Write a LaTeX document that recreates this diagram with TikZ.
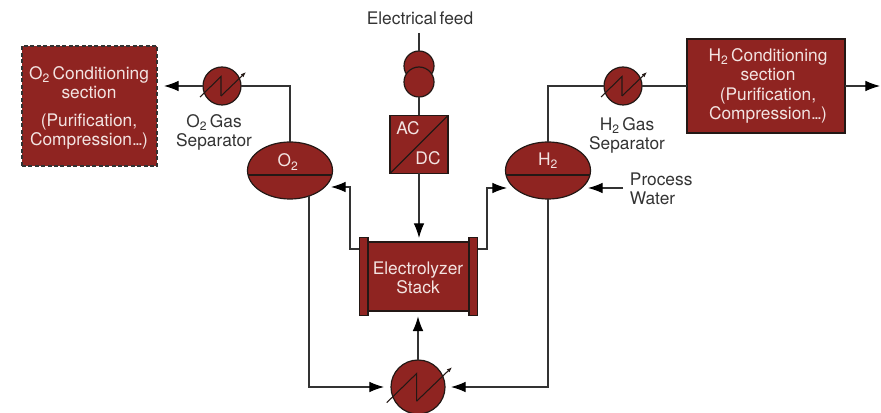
\documentclass[tikz,border=0pt]{standalone}
\usepackage{fontspec}
\setmainfont[WordSpace=0.55]{TeX Gyre Heros}
\usetikzlibrary{shapes, arrows.meta, positioning, calc}
\definecolor{cUnit}{RGB}{143, 36, 33}
\definecolor{cEdge}{RGB}{35, 24, 21}
\definecolor{cLine}{RGB}{51, 51, 51}
\definecolor{cPale}{RGB}{243, 228, 226}
\newcommand{\tightdots}{.\kern-1.3pt.\kern-1.3pt.\kern-0.6pt}
\tikzset{
    font=\fontsize{13}{14.4}\selectfont,
    % equipment
    unitNode/.style={
        rectangle, draw=cEdge, fill=cUnit, line width=0.9pt, inner sep=0pt,
        outer sep=0pt, align=center, text=cPale
    },
    vesselNode/.style={
        ellipse, draw=cEdge, fill=cUnit, line width=0.9pt, inner sep=0pt,
        outer sep=0pt, minimum width=63.75pt, minimum height=42.75pt
    },
    coolerNode/.style={
        circle, draw=cEdge, fill=cUnit, line width=0.9pt, inner sep=0pt,
        outer sep=0pt, minimum size=28.5pt
    },
    % plain text
    labelNode/.style={inner sep=0pt, align=center, text=cLine},
    innerLabel/.style={inner sep=0pt, align=center, text=cPale},
    % lines
    conn/.style={draw=cLine, line width=0.9pt},
    flow/.style={conn, -{Latex[length=11pt,width=8pt,color=black]}}
}
\begin{document}
\begin{tikzpicture}[x=0.75pt, y=-0.75pt]
	\useasboundingbox (0,0) rectangle (881,413);

	% 1. conditioning sections
	\node[unitNode, dash pattern=on 3pt off 1.8pt, draw=cLine, minimum width=101.25pt, minimum height=90pt] (boxOxy) at (89.5,106) {};
	\node[innerLabel] (textOxy) at (89,108) {
		O\textsubscript{2} Conditioning\\
		section\\[6pt]
		(Purification,\\
		Compression\tightdots)
	};
	\node[unitNode, minimum width=118.5pt, minimum height=70.5pt] (boxHyd) at (766,86) {};
	\node[innerLabel] (textHyd) at (768,86) {
		H\textsubscript{2} Conditioning\\
		section\\
		(Purification,\\
		Compression\tightdots)
	};
	\coordinate (oxyOutEnd) at (164,86);
	\coordinate (hydOut) at (880,86);

	% 2. gas separators
	\node[vesselNode] (sepOxy) at (290,170.5) {};
	\node[vesselNode] (sepHyd) at (548,170.5) {};
	\node[innerLabel] (nameOxy) at (288,162) {O\textsubscript{2}};
	\node[innerLabel] (nameHyd) at (548,161) {H\textsubscript{2}};
	\draw[cEdge, line width=0.9pt] ($(sepOxy.center)+(-42,4.5)$) -- ($(sepOxy.center)+(42,4.5)$);
	\draw[cEdge, line width=0.9pt] ($(sepHyd.center)+(-42,4.5)$) -- ($(sepHyd.center)+(42,4.5)$);

	% 3. coolers
	\node[coolerNode] (hxOxy) at (222,86) {};
	\node[coolerNode] (hxHyd) at (623,86) {};
	\node[coolerNode, minimum size=40.5pt] (hxWater) at (418,387) {};
	\foreach \hx/\k in {hxOxy/1, hxHyd/1, hxWater/1.42} {
		\draw[cEdge, line width=0.8pt] ($(\hx.center)+(-22*\k,11*\k)$) -- ($(\hx.center)+(-1*\k,-9.5*\k)$) -- ($(\hx.center)+(-1*\k,10*\k)$);
		\draw[cEdge, line width=0.8pt, -{Latex[length=4pt,width=3pt]}] ($(\hx.center)+(-1*\k,10*\k)$) -- ($(\hx.center)+(24*\k,-14*\k)$);
	}

	% 4. electrical feed
	\node[labelNode] (feed) at (420,18) {Electrical feed};
	\coordinate (feedEnd) at (419,33);
	\node[coolerNode, minimum size=22.5pt] (coilTop) at (419,66) {};
	\node[coolerNode, minimum size=22.5pt] (coilLow) at (419,82) {};
	\node[unitNode, minimum size=43.5pt] (acdc) at (419,144.5) {};
	\draw[cEdge, line width=0.9pt] (acdc.south west) -- (acdc.north east);
	\node[innerLabel] (textAc) at (408,128) {AC};
	\node[innerLabel] (textDc) at (428,158) {DC};

	% 5. stack
	\node[unitNode, minimum width=75.75pt, minimum height=51.75pt] (stack) at (418.5,276.5) {};
	\node[innerLabel] (textStack) at (418,278) {
		Electrolyzer\\
		Stack
	};
	\node[unitNode, minimum width=6.4pt, minimum height=58.5pt, left=0pt of stack] (flangeL) {};
	\node[unitNode, minimum width=6.4pt, minimum height=58.5pt, right=0pt of stack] (flangeR) {};

	% 6. free ends
	\coordinate (oxyIn) at (331,187);
	\coordinate (hydIn) at (507,188);
	\coordinate (oxyOut) at (309,196);
	\coordinate (hydOutLow) at (548,199);
	\coordinate (leftIn) at (384,387);
	\coordinate (rightIn) at (451,387);
	\coordinate (waterStart) at (623,188);
	\coordinate (waterEnd) at (588,188);
	\node[labelNode, align=left, right=5pt of waterStart, yshift=-0.5pt] (water) {Process\\Water};

	% 7. lines
	\draw[flow] (hxOxy.west) -- (oxyOutEnd);
	\draw[conn] (hxOxy.east) -| (sepOxy.north);
	\draw[conn] (sepHyd.north) |- (hxHyd.west);
	\draw[conn] (hxHyd.east) -- (hxHyd.east -| boxHyd.west);
	\draw[flow] (boxHyd.east) -- (hydOut);
	\draw[conn] (feedEnd) -- (coilTop.north);
	\draw[conn] (coilLow.south) -- (acdc.north);
	\draw[flow, shorten >=3pt] (acdc.south) -- (acdc.south |- stack.north);
	\draw[flow, shorten >=4pt] (hxWater.north) -- (hxWater.north |- stack.south);
	\draw[flow] (flangeL.west |- 0,249) -- ++(-9.5,0) |- (oxyIn);
	\draw[flow] (flangeR.east |- 0,249) -- ++(9.5,0) |- (hydIn);
	\draw[flow] (oxyOut) |- (leftIn);
	\draw[flow] (hydOutLow) |- (rightIn);
	\draw[flow] (waterStart) -- (waterEnd);

	% 8. gas separator labels
	\node[labelNode, below=7pt of hxOxy, xshift=-6pt] (labelOxy) {O\textsubscript{2} Gas\\Separator};
	\node[labelNode, below=9pt of hxHyd, xshift=3pt] (labelHyd) {H\textsubscript{2} Gas\\Separator};

\end{tikzpicture}
\end{document}
